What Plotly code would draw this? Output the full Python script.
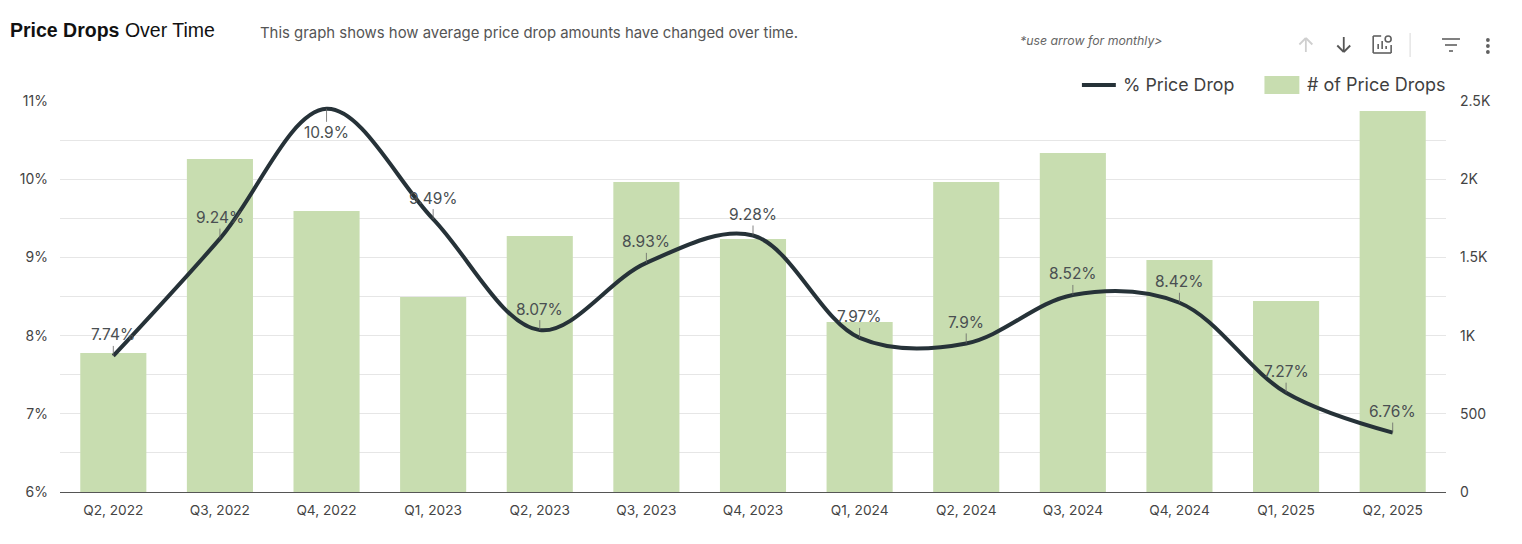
import plotly.graph_objects as go

quarters = ["Q2, 2022", "Q3, 2022", "Q4, 2022", "Q1, 2023", "Q2, 2023", "Q3, 2023", "Q4, 2023",
            "Q1, 2024", "Q2, 2024", "Q3, 2024", "Q4, 2024", "Q1, 2025", "Q2, 2025"]
pct_drop = [7.74, 9.24, 10.9, 9.49, 8.07, 8.93, 9.28, 7.97, 7.9, 8.52, 8.42, 7.27, 6.76]
pct_labels = ["7.74%", "9.24%", "10.9%", "9.49%", "8.07%", "8.93%", "9.28%", "7.97%", "7.9%", "8.52%", "8.42%", "7.27%", "6.76%"]
num_drops = [889, 2129, 1797, 1247, 1637, 1982, 1618, 1087, 1982, 2167, 1483, 1221, 2436]
left_ticks = [6, 7, 8, 9, 10, 11]
left_labels = ["6%", "7%", "8%", "9%", "10%", "11%"]
right_ticks = [0, 500, 1000, 1500, 2000, 2500]
right_labels = ["0", "500", "1K", "1.5K", "2K", "2.5K"]

OFF = 8  # page margin of the browser
W, H = 1522 - OFF, 544 - OFF
L, R, T, B = 56.5, 1446, 101, 492
FONT = "Inter, 'Open Sans', sans-serif"
DARK = "#263238"
GREEN = "#c8ddb0"
ICON = "#606060"


def px(v):
    return (v - L) / (R - L)


def py(v):
    return (B - v) / (B - T)


fig = go.Figure()
fig.add_trace(go.Bar(x=quarters, y=num_drops, name="# of Price Drops", marker=dict(color=GREEN, line_width=0),
                     yaxis="y", showlegend=False))
fig.add_trace(go.Scatter(x=quarters, y=pct_drop, name="% Price Drop", mode="lines", yaxis="y2", showlegend=False,
                         line=dict(color=DARK, width=4, shape="spline", smoothing=1.0)))

ann = []
for q, v, t in zip(quarters, pct_drop, pct_labels):
    ann.append(dict(x=q, y=v, xref="x", yref="y2", text=t, showarrow=True, ax=0, ay=24 if v > 10.5 else -21,
                    arrowhead=0, arrowwidth=0.8, arrowcolor="#666666", standoff=0,
                    font=dict(family=FONT, size=15.5, color="#4a4f52")))


def text(x, y, s, size, color, family=FONT, anchor="left"):
    ann.append(dict(x=px(x), y=py(y), xref="paper", yref="paper", xanchor=anchor, yanchor="middle", showarrow=False,
                    text=s, font=dict(family=family, size=size, color=color)))


def line(x0, y0, x1, y1, color=ICON, width=1.6):
    return dict(type="line", xref="paper", yref="paper", x0=px(x0), y0=py(y0), x1=px(x1), y1=py(y1),
                line=dict(color=color, width=width))


def dot(x, y, r, color=ICON):
    return dict(type="circle", xref="paper", yref="paper", x0=px(x - r), x1=px(x + r), y0=py(y + r), y1=py(y - r),
                fillcolor=color, line_width=0)


def arrow(x, y0, y1, color):
    d = 1 if y1 > y0 else -1
    return [line(x, y0, x, y1, color, 1.8), line(x, y1, x - 6.5, y1 - d * 6.5, color, 1.8),
            line(x, y1, x + 6.5, y1 - d * 6.5, color, 1.8)]


text(4.5, 30, "<b>Price Drops</b> Over Time", 19.5, "#111111", "'Liberation Sans', sans-serif")
text(255.5, 33, "This graph shows how average price drop amounts have changed over time.", 14.9, "#555555")
text(1016.5, 40, "<i>*use arrow for monthly&gt;</i>", 12.3, "#666666")
text(1120, 85, "% Price Drop", 17.8, "#3f3f3f")
text(1304.5, 85, "# of Price Drops", 18, "#3f3f3f")

shapes = [
    line(1081, 85, 1115, 85, DARK, 4),
    dict(type="rect", xref="paper", yref="paper", x0=px(1264), x1=px(1299), y0=py(94), y1=py(76),
         fillcolor=GREEN, line_width=0),
    *arrow(1305.5, 52, 38, "#cfcfcf"),
    *arrow(1343.5, 37, 52, "#555555"),
    line(1410, 33, 1410, 57, "#d8d8d8", 1),
    line(1442, 39, 1460, 39), line(1445, 45, 1457, 45), line(1449, 51, 1453, 51),
    line(1373, 36, 1373, 53), line(1373, 53, 1391, 53), line(1391, 45, 1391, 53),
    line(1373, 36, 1381, 36), line(1378, 49, 1378, 44), line(1382, 49, 1382, 41), line(1386, 49, 1386, 46),
    dict(type="circle", xref="paper", yref="paper", x0=px(1385), x1=px(1391), y0=py(42), y1=py(36),
         line=dict(color=ICON, width=1.6)),
    dot(1488, 40, 1.9), dot(1488, 46, 1.9), dot(1488, 52, 1.9),
]

fig.update_layout(
    width=W, height=H, autosize=False,
    margin=dict(l=L - OFF, r=W - (R - OFF), t=T - OFF, b=H - (B - OFF), pad=0),
    paper_bgcolor="white", plot_bgcolor="white",
    font=dict(family=FONT, color="#444444", size=14),
    bargap=0.38,
    showlegend=False,
    xaxis=dict(showgrid=False, showline=True, linecolor="#555555", linewidth=1.4, ticks="",
               tickfont=dict(size=13.7), ticklabelstandoff=5,
               categoryorder="array", categoryarray=quarters),
    yaxis=dict(side="right", range=[0, 2500], tickvals=right_ticks, ticktext=right_labels,
               showgrid=True, gridcolor="#e6e6e6", gridwidth=1.2, zeroline=False,
               minor=dict(dtick=250, showgrid=True, gridcolor="#e6e6e6", gridwidth=1.2, ticks=""),
               tickfont=dict(size=14), ticks="", ticklabelstandoff=13),
    yaxis2=dict(side="left", overlaying="y", range=[6, 11], tickvals=left_ticks, ticktext=left_labels,
                showgrid=False, zeroline=False, tickfont=dict(size=14), ticks="", ticklabelstandoff=11),
    annotations=ann, shapes=shapes,
)
fig.write_html("out.html", config=dict(displayModeBar=False))
